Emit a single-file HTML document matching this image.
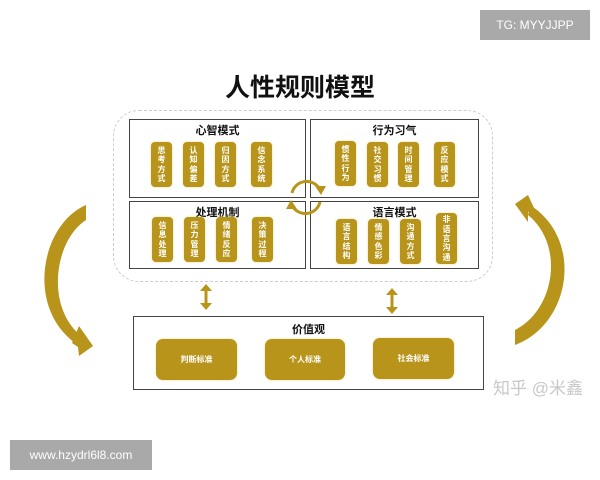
<!DOCTYPE html>
<html><head><meta charset="utf-8"><style>
body{margin:0;width:600px;height:480px;background:#fff;position:relative;overflow:hidden;font-family:"Liberation Sans","Noto Sans CJK SC",sans-serif}
.a{position:absolute}
.box{position:absolute;border:1.5px solid #444;background:#fff;box-sizing:border-box}
.ttl{position:absolute;width:100%;text-align:center;font-weight:bold;font-size:11px;color:#111;top:2px}
.p{position:absolute;width:21px;background:#b8941a;border-radius:4px;color:#fff;font-size:8px;font-weight:bold;line-height:9px;text-align:center;box-sizing:border-box;padding:3px 0;display:flex;flex-direction:column;justify-content:space-evenly;box-shadow:0 0 2px #e8d890}
.b{position:absolute;background:#b8941a;border-radius:7px;color:#fff;font-size:8px;font-weight:bold;text-align:center;line-height:41px;box-shadow:0 0 2px #e8d890}
</style></head><body>
<div class="a" style="left:480px;top:10px;width:110px;height:30px;background:#a9a9a9;color:#fff;font-size:12px;line-height:30px;text-align:center">TG: MYYJJPP</div>
<div class="a" style="left:10px;top:440px;width:142px;height:30px;background:#a9a9a9;color:#fff;font-size:12px;line-height:30px;text-align:center">www.hzydrl6l8.com</div>
<div class="a" style="left:0;width:600px;top:68px;text-align:center;font-size:25px;font-weight:bold;color:#111">人性规则模型</div>
<div class="a" style="left:113px;top:110px;width:378px;height:170px;border:1px dashed #ccc;border-radius:26px"></div>

<div class="box" style="left:129px;top:119px;width:177px;height:79px"><div class="ttl">心智模式</div></div>
<div class="box" style="left:310px;top:119px;width:169px;height:79px"><div class="ttl">行为习气</div></div>
<div class="box" style="left:129px;top:201px;width:177px;height:68px"><div class="ttl">处理机制</div></div>
<div class="box" style="left:310px;top:201px;width:169px;height:68px"><div class="ttl">语言模式</div></div>

<div class="p" style="left:151px;top:142px;height:45px"><span>思</span><span>考</span><span>方</span><span>式</span></div>
<div class="p" style="left:183px;top:142px;height:45px"><span>认</span><span>知</span><span>偏</span><span>差</span></div>
<div class="p" style="left:215px;top:142px;height:45px"><span>归</span><span>因</span><span>方</span><span>式</span></div>
<div class="p" style="left:251px;top:142px;height:45px"><span>信</span><span>念</span><span>系</span><span>统</span></div>
<div class="p" style="left:335px;top:141px;height:45px"><span>惯</span><span>性</span><span>行</span><span>为</span></div>
<div class="p" style="left:367px;top:142px;height:45px"><span>社</span><span>交</span><span>习</span><span>惯</span></div>
<div class="p" style="left:398px;top:142px;height:45px"><span>时</span><span>间</span><span>管</span><span>理</span></div>
<div class="p" style="left:434px;top:142px;height:45px"><span>反</span><span>应</span><span>模</span><span>式</span></div>

<div class="p" style="left:152px;top:217px;height:45px"><span>信</span><span>息</span><span>处</span><span>理</span></div>
<div class="p" style="left:184px;top:217px;height:45px"><span>压</span><span>力</span><span>管</span><span>理</span></div>
<div class="p" style="left:216px;top:217px;height:45px"><span>情</span><span>绪</span><span>反</span><span>应</span></div>
<div class="p" style="left:252px;top:217px;height:45px"><span>决</span><span>策</span><span>过</span><span>程</span></div>
<div class="p" style="left:336px;top:219px;height:45px"><span>语</span><span>言</span><span>结</span><span>构</span></div>
<div class="p" style="left:368px;top:219px;height:45px"><span>情</span><span>感</span><span>色</span><span>彩</span></div>
<div class="p" style="left:400px;top:219px;height:45px"><span>沟</span><span>通</span><span>方</span><span>式</span></div>
<div class="p" style="left:436px;top:213px;height:51px;padding:2px 0"><span>非</span><span>语</span><span>言</span><span>沟</span><span>通</span></div>

<div class="box" style="left:133px;top:316px;width:351px;height:74px"><div class="ttl" style="top:4px">价值观</div></div>
<div class="b" style="left:156px;top:339px;width:81px;height:41px">判断标准</div>
<div class="b" style="left:265px;top:339px;width:80px;height:41px">个人标准</div>
<div class="b" style="left:373px;top:338px;width:81px;height:41px">社会标准</div>
<div class="a" style="left:493px;top:374px;font-size:17px;color:#c8c8c8">知乎 @米鑫</div>

<svg class="a" style="left:0;top:0" width="600" height="480">
<g fill="#b8941a" stroke="none">
<path d="M292 193 A15 15 0 0 1 319 188" fill="none" stroke="#b8941a" stroke-width="3"/>
<polygon points="315,186 326,186 321,195"/>
<path d="M320 202 A15 15 0 0 1 293 207" fill="none" stroke="#b8941a" stroke-width="3"/>
<polygon points="297,209 286,209 291,200"/>
<rect x="204.5" y="289" width="3" height="16"/>
<polygon points="200,291 206,284 212,291"/>
<polygon points="200,303 206,310 212,303"/>
<rect x="390.5" y="293" width="3" height="16"/>
<polygon points="386,295 392,288 398,295"/>
<polygon points="386,307 392,314 398,307"/>
<path d="M86 205 C40 225 25 310 78 345 L80 335 C45 305 55 240 86 220 Z"/>
<polygon points="79,326 93,346 79,356 78,347 72,343"/>
<path d="M515 345 C570 325 585 240 530 205 L528 215 C565 245 555 310 515 330 Z"/>
<polygon points="528,195 515,204 528,222 528,212 534,208"/>
</g>
</svg>
</body></html>
